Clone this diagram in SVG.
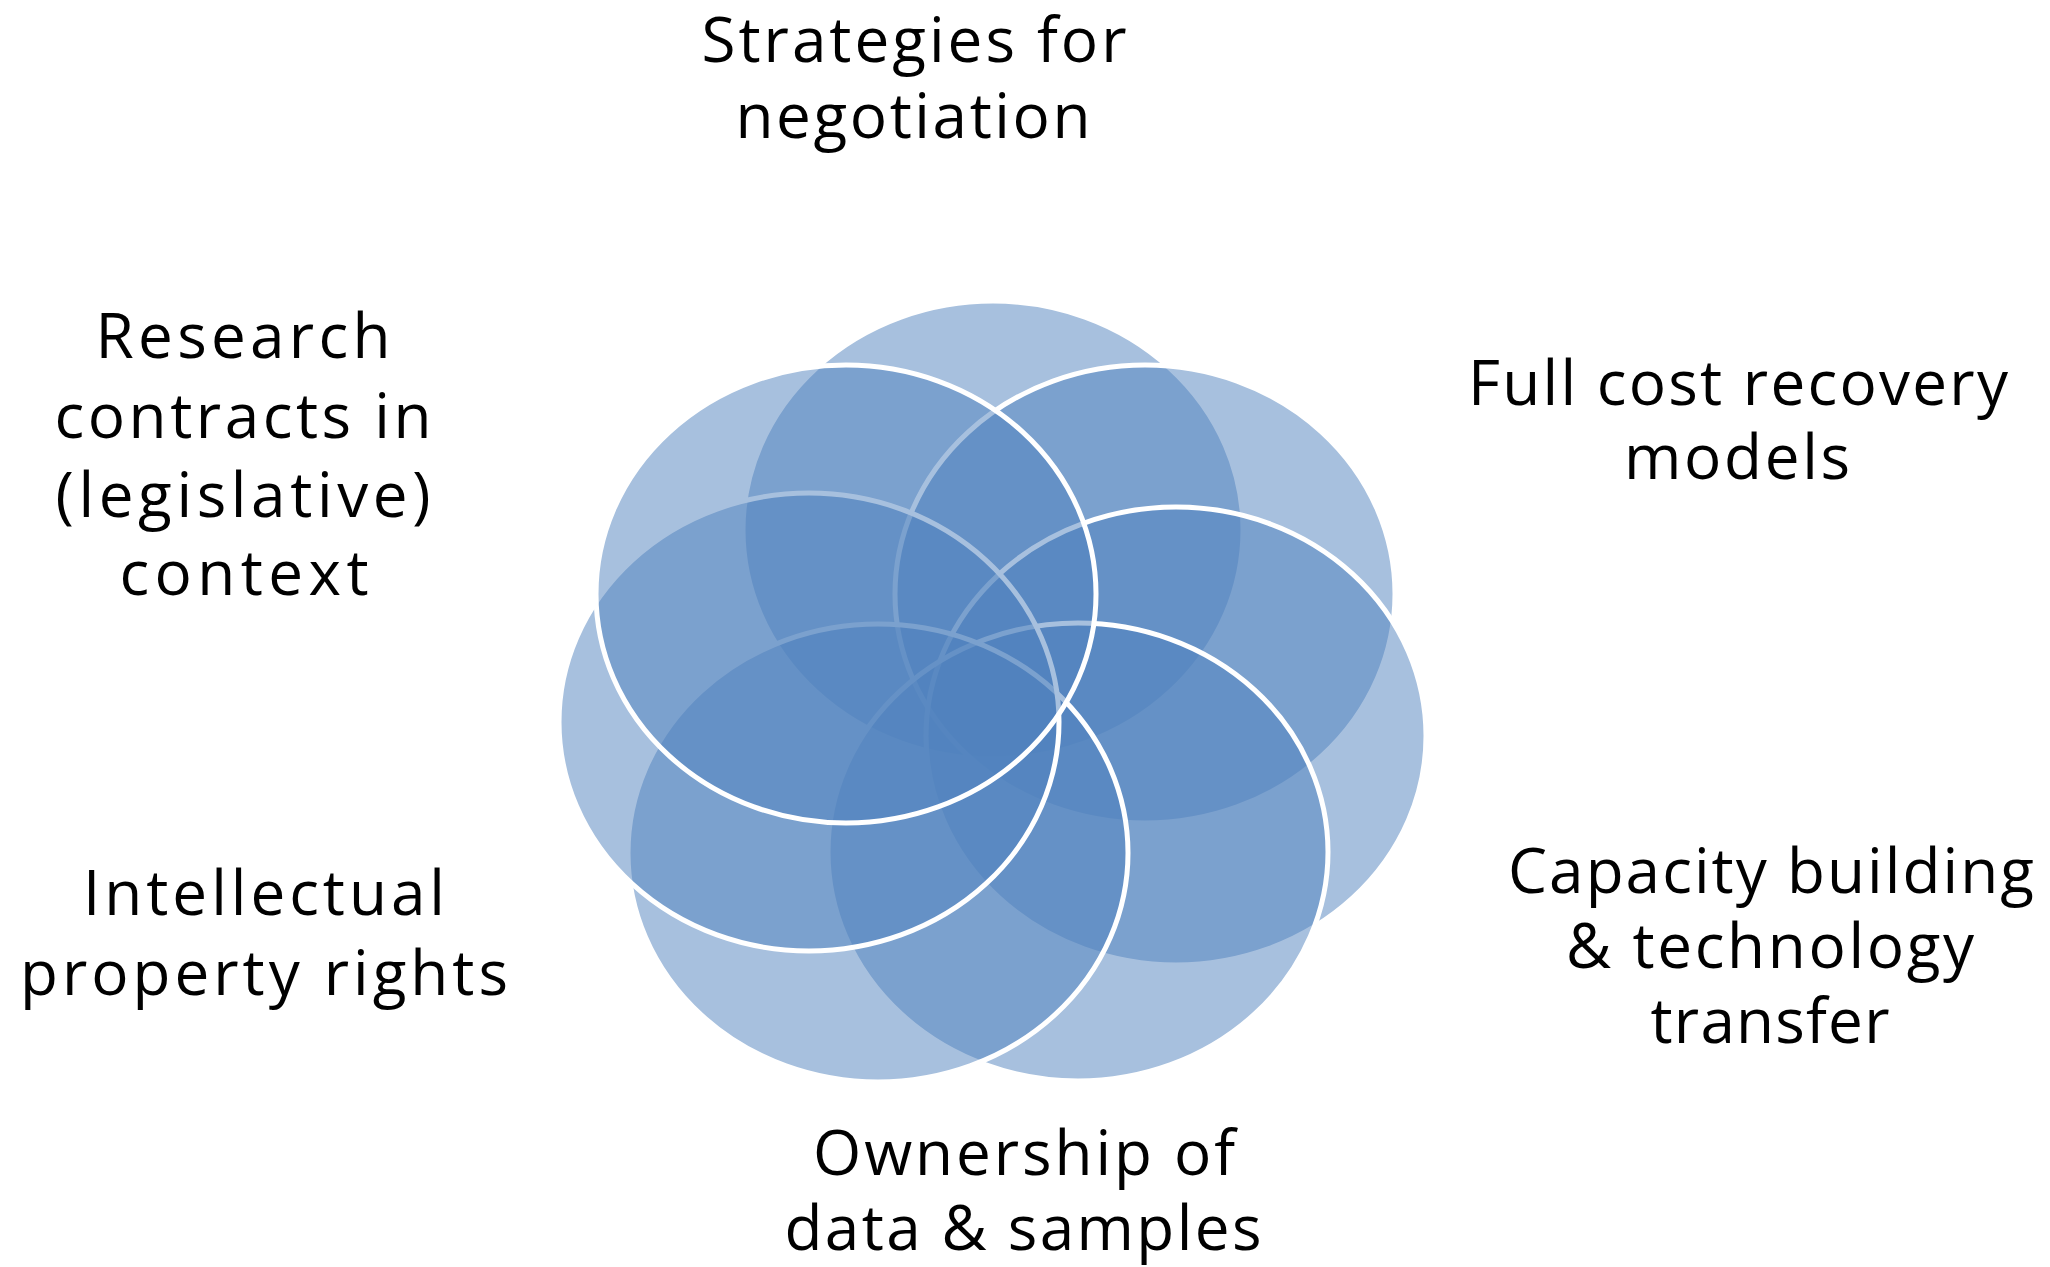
<svg xmlns="http://www.w3.org/2000/svg" width="2050" height="1267" viewBox="0 0 2050 1267">
  <style>
    .petal { fill: #4F81BD; fill-opacity: 0.5; stroke: #FFFFFF; stroke-width: 5; }
    .lbl { font-family: "Open Sans", "Liberation Sans", sans-serif; font-size: 62px; fill: #000000; text-anchor: middle; }
  </style>
  <rect x="0" y="0" width="2050" height="1267" fill="#FFFFFF"/>
  <g id="petals">
    <g id="petal-top"><ellipse class="petal" cx="993" cy="530" rx="250" ry="229"/></g>
    <g id="petal-upper-right"><ellipse class="petal" cx="1145" cy="594" rx="250" ry="229"/></g>
    <g id="petal-right"><ellipse class="petal" cx="1176" cy="736" rx="250" ry="229"/></g>
    <g id="petal-lower-right"><ellipse class="petal" cx="1078" cy="852" rx="250" ry="229"/></g>
    <g id="petal-lower-left"><ellipse class="petal" cx="878" cy="853" rx="250" ry="229"/></g>
    <g id="petal-left"><ellipse class="petal" cx="809" cy="722" rx="250" ry="229"/></g>
    <g id="petal-upper-left"><ellipse class="petal" cx="846" cy="594" rx="250" ry="229"/></g>
  </g>
  <g id="connectors"></g>
  <g id="label-strategies">
    <text class="lbl" x="914" y="62" textLength="425">Strategies for</text>
    <text class="lbl" x="913" y="138" textLength="355">negotiation</text>
  </g>
  <g id="label-full-cost">
    <text class="lbl" x="1738" y="405" textLength="540">Full cost recovery</text>
    <text class="lbl" x="1737" y="479" textLength="226">models</text>
  </g>
  <g id="label-capacity">
    <text class="lbl" x="1771" y="893" textLength="526">Capacity building</text>
    <text class="lbl" x="1770" y="968" textLength="408">&amp; technology</text>
    <text class="lbl" x="1770" y="1043" textLength="239">transfer</text>
  </g>
  <g id="label-ownership">
    <text class="lbl" x="1024" y="1175" textLength="422">Ownership of</text>
    <text class="lbl" x="1023" y="1250" textLength="477">data &amp; samples</text>
  </g>
  <g id="label-intellectual">
    <text class="lbl" x="264" y="915" textLength="362">Intellectual</text>
    <text class="lbl" x="264" y="995" textLength="488">property rights</text>
  </g>
  <g id="label-research">
    <text class="lbl" x="243" y="358" textLength="295">Research</text>
    <text class="lbl" x="243" y="438" textLength="377">contracts in</text>
    <text class="lbl" x="243" y="517" textLength="375">(legislative)</text>
    <text class="lbl" x="244" y="595" textLength="249">context</text>
  </g>
</svg>
